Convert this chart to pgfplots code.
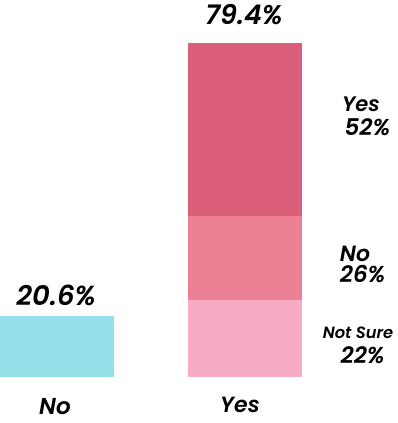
\documentclass[border=0pt]{standalone}
\usepackage{pgfplots}
\pgfplotsset{compat=1.18}
\usepackage{fontspec}
\setmainfont{Poppins}[BoldFont=* SemiBold, BoldItalicFont=* SemiBold Italic]
\definecolor{cNo}{RGB}{149,224,232}
\definecolor{cYesYes}{RGB}{219,95,122}
\definecolor{cYesNo}{RGB}{236,129,150}
\definecolor{cYesNS}{RGB}{248,171,196}
\begin{document}
\begin{tikzpicture}
\begin{axis}[
  scale only axis, width=398pt, height=423pt,
  hide axis, clip=false,
  xmin=-0.303, xmax=1.814, ymin=-10.8, ymax=89.6,
  ybar stacked, bar width=0.606,
  every node/.append style={font=\bfseries\itshape, text=black},
]
\addplot[fill=cNo, draw=none] coordinates {(0,14.6) (1,0)};
\addplot[fill=cYesNS, draw=none] coordinates {(0,0) (1,18.4)};
\addplot[fill=cYesNo, draw=none] coordinates {(0,0) (1,19.9)};
\addplot[fill=cYesYes, draw=none] coordinates {(0,0) (1,41.1)};
\node[font=\fontsize{27}{32}\selectfont\bfseries\itshape] at (rel axis cs:0.613,0.9645) {79.4\%};
\node[font=\fontsize{27.5}{32}\selectfont\bfseries\itshape] at (rel axis cs:0.1407,0.3026) {20.6\%};
\node[font=\fontsize{23}{27}\selectfont\bfseries\itshape] at (rel axis cs:0.138,0.0378) {No};
\node[font=\fontsize{22}{26}\selectfont\bfseries\itshape] at (rel axis cs:0.603,0.0426) {Yes};
\node[font=\fontsize{21}{25}\selectfont\bfseries\itshape] at (rel axis cs:0.907,0.753) {Yes};
\node[font=\fontsize{23}{27}\selectfont\bfseries\itshape] at (rel axis cs:0.923,0.6986) {52\%};
\node[font=\fontsize{22}{26}\selectfont\bfseries\itshape] at (rel axis cs:0.892,0.4007) {No};
\node[font=\fontsize{23}{27}\selectfont\bfseries\itshape] at (rel axis cs:0.911,0.351) {26\%};
\node[font=\fontsize{16.3}{19}\selectfont\bfseries\itshape] at (rel axis cs:0.8995,0.214) {Not Sure};
\node[font=\fontsize{23}{27}\selectfont\bfseries\itshape] at (rel axis cs:0.911,0.1608) {22\%};
\end{axis}
\pgfresetboundingbox
\path (current axis.south west) rectangle (current axis.north east);
\end{tikzpicture}
\end{document}
